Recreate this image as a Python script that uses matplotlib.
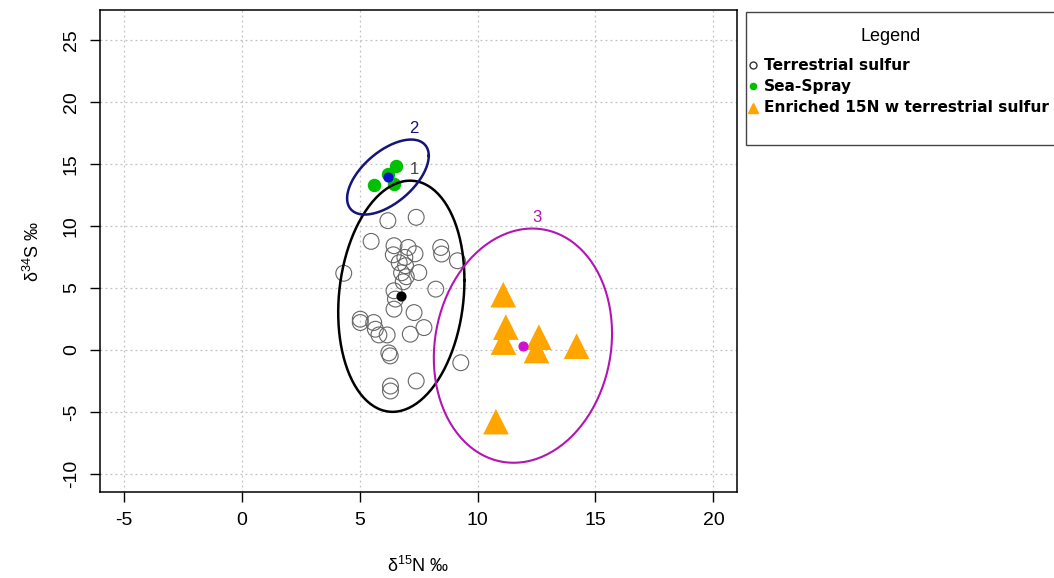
import numpy as np
import matplotlib
matplotlib.use("Agg")
import matplotlib.pyplot as plt
from matplotlib.lines import Line2D
from matplotlib.patches import Rectangle

plt.rcParams['font.family'] = ['Liberation Sans', 'DejaVu Sans']
plt.rcParams['mathtext.fontset'] = 'custom'
plt.rcParams['mathtext.rm'] = 'Liberation Sans'
plt.rcParams['mathtext.it'] = 'Liberation Sans:italic'
plt.rcParams['axes.unicode_minus'] = False

# terrestrial sulfur samples (d15N, d34S)
terr_n = [6.20, 7.40, 5.49, 4.33, 8.44, 8.48, 9.15, 6.46, 7.06, 7.35,
          6.43, 6.92, 6.95, 7.51, 6.78, 6.85, 8.23, 6.46, 6.52, 6.46,
          7.31, 5.03, 5.03, 5.60, 5.67, 5.82, 6.17, 7.15, 7.73, 6.24,
          6.30, 9.29, 6.31, 6.31, 7.40, 6.68, 6.98]
terr_s = [10.42, 10.69, 8.75, 6.18, 8.26, 7.73, 7.19, 8.40, 8.26, 7.75,
          7.67, 7.46, 6.79, 6.24, 6.22, 5.49, 4.90, 4.77, 4.10, 3.29,
          3.01, 2.48, 2.21, 2.21, 1.67, 1.21, 1.21, 1.27, 1.80, -0.24,
          -0.48, -1.03, -2.91, -3.31, -2.50, 7.03, 5.90]

# sea-spray samples
sea_n = [5.60, 6.21, 6.53, 6.47]
sea_s = [13.30, 14.21, 14.86, 13.37]

# enriched 15N with terrestrial sulfur
enr_n = [11.09, 11.20, 11.10, 12.60, 12.50, 14.20, 10.78]
enr_s = [4.45, 1.84, 0.63, 1.03, -0.05, 0.30, -5.78]

groups = ["1", "2", "3"]
ell_colors = ["black", "#14147a", "#b414b4"]
cent_colors = ["black", "#1010d0", "#d010d0"]

x_ticks = [-5, 0, 5, 10, 15, 20]
y_ticks = [-10, -5, 0, 5, 10, 15, 20, 25]


def data_ellipse(x, y, level=0.94, npts=200):
    # data ellipse like car::dataEllipse (F based radius)
    x = np.asarray(x)
    y = np.asarray(y)
    n = len(x)
    center = np.array([x.mean(), y.mean()])
    cov = np.cov(np.vstack([x, y]))
    d = n - 1
    fq = (d / 2.0) * ((1 - level) ** (-2.0 / d) - 1)
    radius = np.sqrt(2 * fq)
    chol = np.linalg.cholesky(cov)
    t = np.linspace(0, 2 * np.pi, npts)
    circ = np.vstack([np.cos(t), np.sin(t)])
    pts = center[:, None] + radius * chol @ circ
    top = pts[:, np.argmax(pts[1])]
    return center, pts, top


fig = plt.figure(figsize=(10.54, 5.78), dpi=100)
ax = fig.add_axes([0.0949, 0.1488, 0.6044, 0.8339])

ax.scatter(terr_n, terr_s, s=130, facecolors="none", edgecolors="#666666",
           linewidths=0.8, zorder=3)
ax.scatter(sea_n, sea_s, s=75, color="#00c000", zorder=3)
ax.scatter(enr_n, enr_s, s=340, marker="^", color="#ffa500",
           edgecolors="none", zorder=3)

for (xs, ys), lab, ec, cc in zip([(terr_n, terr_s), (sea_n, sea_s), (enr_n, enr_s)],
                                 groups, ell_colors, cent_colors):
    center, pts, top = data_ellipse(xs, ys)
    lw = 1.8 if lab != "3" else 1.5
    ax.plot(pts[0], pts[1], color=ec, lw=lw, zorder=4)
    ax.scatter([center[0]], [center[1]], s=40, color=cc, zorder=5)
    txt_col = "#444444" if lab == "1" else ec
    ax.text(top[0] + 0.15, top[1] + 0.3, lab, color=txt_col, fontsize=12,
            ha="center", va="bottom", zorder=5)

ax.set_xlim(-6, 21)
ax.set_ylim(-11.45, 27.4)
ax.set_xticks(x_ticks)
ax.set_yticks(y_ticks)
ax.grid(True, color="#c0c0c0", linestyle=(0, (1.5, 2.5)), linewidth=0.9)
ax.set_axisbelow(True)
ax.tick_params(length=7.5, width=1, labelsize=14, pad=7)
plt.setp(ax.get_yticklabels(), rotation=90, va="center")
for sp in ax.spines.values():
    sp.set_linewidth(1.1)

ax.set_xlabel(r"$\mathrm{\delta^{15}N}$ ‰", fontsize=13)
ax.set_ylabel(r"$\mathrm{\delta^{34}S}$ ‰", fontsize=13)
ax.xaxis.set_label_coords(0.5, -0.133)
ax.yaxis.set_label_coords(-0.09, 0.5)

# legend box, cut off at the right edge like the original
fig.add_artist(Rectangle((0.7078, 0.749), 0.35, 0.230, transform=fig.transFigure,
                         facecolor="white", edgecolor="#444444", lw=1.0,
                         clip_on=False))
fig.text(0.845, 0.937, "Legend", fontsize=13, ha="center", va="center")
leg_items = [("Terrestrial sulfur", dict(marker="o", mfc="white", mec="#333333", ms=5)),
             ("Sea-Spray", dict(marker="o", mfc="#00c000", mec="#00c000", ms=4.5)),
             ("Enriched 15N w terrestrial sulfur", dict(marker="^", mfc="#ffa500", mec="#ffa500", ms=7))]
for i, (lab, mk) in enumerate(leg_items):
    yy = 0.887 - i * 0.0365
    fig.add_artist(Line2D([0.7145], [yy], transform=fig.transFigure, ls="none", **mk))
    fig.text(0.7245, yy, lab, fontsize=11.1, fontweight="bold", family="DejaVu Sans",
             ha="left", va="center")

plt.savefig("out.png", dpi=100)
plt.close()
